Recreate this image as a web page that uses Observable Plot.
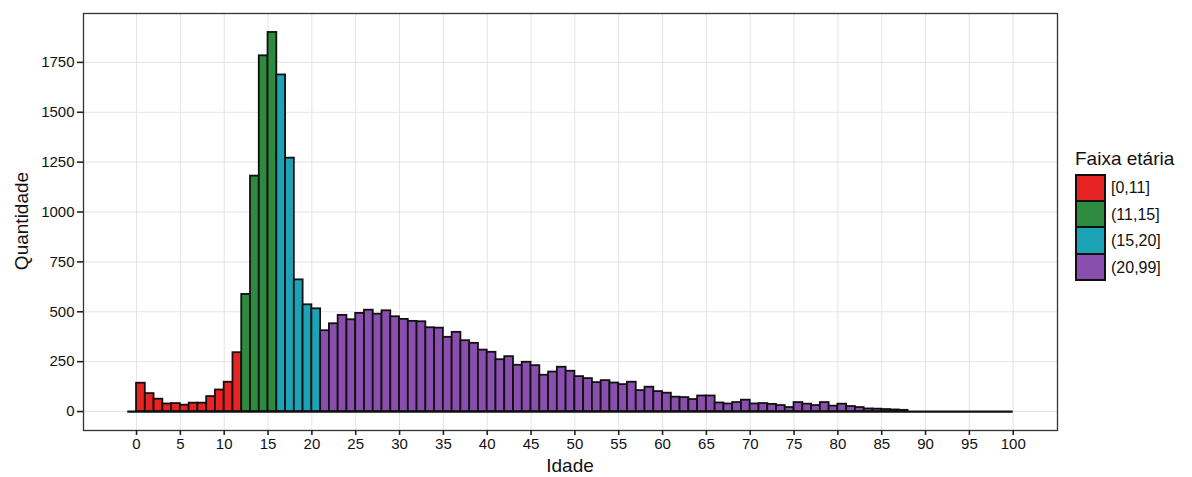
<!DOCTYPE html>
<html>
<head>
<meta charset="utf-8">
<script src="https://cdn.jsdelivr.net/npm/d3@7"></script>
<script src="https://cdn.jsdelivr.net/npm/@observablehq/plot@0.6"></script>
<style>
  html, body { margin: 0; padding: 0; background: #fff; }
  #wrap { position: relative; width: 1192px; height: 477px; font-family: "Liberation Sans", Arial, sans-serif; color: #111; }
  #xtitle { position: absolute; left: 0; width: 1140px; text-align: center; top: 455px; font-size: 19px; }
  #ytitle { position: absolute; left: 22px; top: 221px; font-size: 19px; transform: translate(-50%, -50%) rotate(-90deg); white-space: nowrap; }
  #legend { position: absolute; left: 1075px; top: 148px; }
  #legend .title { font-size: 19px; margin-bottom: 5px; }
  #legend .row { display: flex; align-items: center; height: 26.5px; }
  #legend .sw { width: 27px; height: 24px; border: 2px solid #111; box-sizing: content-box; margin-right: 5px; }
  #legend .row + .row .sw { border-top: none; height: 24.5px; }
  #legend .lab { font-size: 16px; }
</style>
</head>
<body>
<div id="wrap">
  <div id="chart"></div>
  <div id="xtitle">Idade</div>
  <div id="ytitle">Quantidade</div>
  <div id="legend"></div>
</div>
<script>
// Ages (histogram bins, width 1 year) and counts
const ages = [0,1,2,3,4,5,6,7,8,9,10,11,12,13,14,15,16,17,18,19,20,21,22,23,24,25,26,27,28,29,
  30,31,32,33,34,35,36,37,38,39,40,41,42,43,44,45,46,47,48,49,50,51,52,53,54,55,56,57,58,59,
  60,61,62,63,64,65,66,67,68,69,70,71,72,73,74,75,76,77,78,79,80,81,82,83,84,85,86,87];
const counts = [142,90,62,38,40,32,42,42,75,108,147,295,587,1180,1783,1900,1687,1270,660,535,515,405,440,482,460,492,508,488,505,475,
  462,452,450,420,418,372,397,355,342,308,297,260,275,232,247,230,182,198,222,202,175,165,145,155,143,135,147,105,122,100,
  92,72,70,60,78,78,43,38,45,57,38,40,36,30,20,45,37,30,45,27,37,25,20,13,12,10,8,6];

// Age groups (Faixa etária)
const groupLabels = ["[0,11]", "(11,15]", "(15,20]", "(20,99]"];
const groupUpper = [11, 15, 20, 99];
const groupColors = ["#e82323", "#2d8a3e", "#1ca3b6", "#8a4fae"];

// Axis ticks
const xTicks = [0,5,10,15,20,25,30,35,40,45,50,55,60,65,70,75,80,85,90,95,100];
const yTicks = [0,250,500,750,1000,1250,1500,1750];
const baselineRange = [-1, 100];
const xDomain = [-6.05, 105.05];
const yDomain = [-95, 1995];

const data = ages.map((a, i) => ({
  x1: a,
  x2: a + 1,
  count: counts[i],
  group: groupLabels[groupUpper.findIndex(u => a <= u)]
}));

const plot = Plot.plot({
  width: 1192,
  height: 477,
  marginLeft: 83,
  marginRight: 135,
  marginTop: 13,
  marginBottom: 47,
  style: { fontFamily: "Liberation Sans, Arial, sans-serif", fontSize: "15px", color: "#111", background: "#fff" },
  x: { domain: xDomain, label: null },
  y: { domain: yDomain, label: null },
  color: { domain: groupLabels, range: groupColors },
  marks: [
    Plot.gridX(xTicks, { stroke: "#e4e4e4", strokeOpacity: 1, strokeWidth: 1 }),
    Plot.gridY(yTicks, { stroke: "#e4e4e4", strokeOpacity: 1, strokeWidth: 1 }),
    Plot.ruleY([0], { x1: baselineRange[0], x2: baselineRange[1], stroke: "#111", strokeWidth: 2.2 }),
    Plot.rect(data, { x1: "x1", x2: "x2", y1: 0, y2: "count", fill: "group", stroke: "#111", strokeWidth: 1.8 }),
    Plot.frame({ stroke: "#333", strokeWidth: 1.3 }),
    Plot.axisX(xTicks, { tickSize: 5, tickPadding: 3, stroke: "#222", strokeWidth: 1.6, fontSize: 15, tickFormat: d3.format("d"), label: null }),
    Plot.axisY(yTicks, { tickSize: 6, tickPadding: 3, stroke: "#222", strokeWidth: 1.6, fontSize: 15, tickFormat: d3.format("d"), label: null })
  ]
});
document.getElementById("chart").appendChild(plot);

// Legend
const legend = document.getElementById("legend");
const t = document.createElement("div");
t.className = "title";
t.textContent = "Faixa etária";
legend.appendChild(t);
groupLabels.forEach((lab, i) => {
  const row = document.createElement("div");
  row.className = "row";
  const sw = document.createElement("div");
  sw.className = "sw";
  sw.style.background = groupColors[i];
  const l = document.createElement("div");
  l.className = "lab";
  l.textContent = lab;
  row.appendChild(sw);
  row.appendChild(l);
  legend.appendChild(row);
});
</script>
</body>
</html>
